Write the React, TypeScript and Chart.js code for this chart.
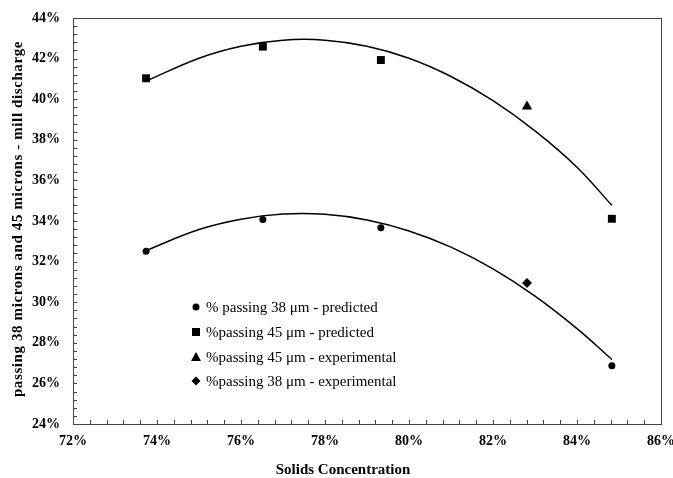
import React, { useEffect, useRef } from 'react';
import { Chart, registerables } from 'chart.js';

Chart.register(...registerables);

// ---- data ----
const solidsPredicted = [73.74, 76.52, 79.33, 84.83];
const passing38Predicted = [32.51, 34.07, 33.67, 26.87];
const passing45Predicted = [41.03, 42.59, 41.93, 34.11];
const solidsExperimental = [82.81];
const passing45Experimental = [39.64];
const passing38Experimental = [30.95];
// trend curves
const trendX = [73.74, 75, 76, 77, 78, 79, 80, 81, 82, 83, 84, 84.83];
const trend45 = [40.89, 42.02, 42.61, 42.91, 42.91, 42.61, 42.02, 41.12, 39.93, 38.44, 36.65, 34.77];
const trend38 = [32.55, 33.58, 34.09, 34.34, 34.33, 34.05, 33.51, 32.71, 31.64, 30.3, 28.7, 27.18];

const legendLabels = [
  '% passing 38 \u03bcm - predicted',
  '%passing 45 \u03bcm - predicted',
  '%passing 45 \u03bcm - experimental',
  '%passing 38 \u03bcm - experimental',
];
const legendShapes = ['circle', 'rect', 'triangle', 'rectRot'];
const yTitle = 'passing 38 microns and 45 microns - mill discharge';
const xTitle = 'Solids Concentration';

const pts = (xs: number[], ys: number[]) => xs.map((x, i) => ({ x, y: ys[i] }));

const FONT = '"Liberation Serif", "Times New Roman", serif';

function drawMarker(ctx: CanvasRenderingContext2D, shape: string, x: number, y: number) {
  ctx.beginPath();
  if (shape === 'circle') {
    ctx.arc(x, y, 3.5, 0, Math.PI * 2);
  } else if (shape === 'rect') {
    ctx.rect(x - 4, y - 4, 8, 8);
  } else if (shape === 'triangle') {
    ctx.moveTo(x, y - 5);
    ctx.lineTo(x + 5, y + 4);
    ctx.lineTo(x - 5, y + 4);
    ctx.closePath();
  } else {
    ctx.moveTo(x, y - 4.5);
    ctx.lineTo(x + 4.5, y);
    ctx.lineTo(x, y + 4.5);
    ctx.lineTo(x - 4.5, y);
    ctx.closePath();
  }
  ctx.fillStyle = '#000';
  ctx.fill();
}

const decorPlugin = {
  id: 'decor',
  afterDraw(chart: any) {
    const ctx: any = chart.ctx;
    const { left, right, top, bottom } = chart.chartArea;
    const xs = chart.scales.x;
    const ys = chart.scales.y;
    ctx.save();
    // frame
    ctx.strokeStyle = '#444';
    ctx.lineWidth = 1;
    ctx.strokeRect(Math.round(left) + 0.5, Math.round(top) + 0.5, Math.round(right - left), Math.round(bottom - top));
    // minor ticks (inward)
    ctx.beginPath();
    for (let i = 0; i <= 50; i++) {
      const v = 24 + i * 0.4;
      const py = Math.round(ys.getPixelForValue(v)) + 0.5;
      ctx.moveTo(left, py);
      ctx.lineTo(left + 4, py);
    }
    for (let i = 0; i <= 35; i++) {
      const v = 72 + i * 0.4;
      const px = Math.round(xs.getPixelForValue(v)) + 0.5;
      ctx.moveTo(px, bottom);
      ctx.lineTo(px, bottom - 4);
    }
    ctx.stroke();
    // axis titles
    ctx.fillStyle = '#000';
    ctx.font = 'bold 15px ' + FONT;
    ctx.textAlign = 'center';
    ctx.textBaseline = 'middle';
    ctx.fillText(xTitle, 343, 470);
    ctx.save();
    ctx.translate(18, 219);
    ctx.rotate(-Math.PI / 2);
    ctx.letterSpacing = '0.6px';
    ctx.fillText(yTitle, 0, 0);
    ctx.restore();
    // legend
    ctx.font = '15px ' + FONT;
    ctx.textAlign = 'left';
    const rows = [307, 332, 357, 381];
    legendLabels.forEach((lab, i) => {
      drawMarker(ctx, legendShapes[i], 196, rows[i]);
      ctx.fillStyle = '#000';
      ctx.fillText(lab, 206, rows[i] + 1);
    });
    ctx.restore();
  },
};

export default function App() {
  const ref = useRef<HTMLCanvasElement | null>(null);
  useEffect(() => {
    if (!ref.current) return;
    const tickFont = { family: FONT, size: 14, weight: 'bold' as const };
    const chart = new Chart(ref.current, {
      type: 'scatter',
      data: {
        datasets: [
          {
            label: legendLabels[0],
            data: pts(solidsPredicted, passing38Predicted),
            pointStyle: 'circle',
            pointRadius: 3.5,
            backgroundColor: '#000',
            borderColor: '#000',
            borderWidth: 0,
          },
          {
            label: legendLabels[1],
            data: pts(solidsPredicted, passing45Predicted),
            pointStyle: 'rect',
            pointRadius: 5.6,
            backgroundColor: '#000',
            borderColor: '#000',
            borderWidth: 0,
          },
          {
            label: legendLabels[2],
            data: pts(solidsExperimental, passing45Experimental),
            pointStyle: 'triangle',
            pointRadius: 6,
            backgroundColor: '#000',
            borderColor: '#000',
            borderWidth: 0,
          },
          {
            label: legendLabels[3],
            data: pts(solidsExperimental, passing38Experimental),
            pointStyle: 'rectRot',
            pointRadius: 5,
            backgroundColor: '#000',
            borderColor: '#000',
            borderWidth: 0,
          },
          {
            label: 'trend45',
            data: pts(trendX, trend45),
            showLine: true,
            pointRadius: 0,
            borderColor: '#000',
            borderWidth: 1.5,
            tension: 0.4,
            fill: false,
          },
          {
            label: 'trend38',
            data: pts(trendX, trend38),
            showLine: true,
            pointRadius: 0,
            borderColor: '#000',
            borderWidth: 1.5,
            tension: 0.4,
            fill: false,
          },
        ],
      },
      options: {
        responsive: false,
        animation: false,
        layout: { padding: { top: 18, right: 0, left: 0, bottom: 0 } },
        plugins: { legend: { display: false }, tooltip: { enabled: false } },
        scales: {
          x: {
            type: 'linear',
            min: 72,
            max: 86,
            ticks: {
              stepSize: 2,
              callback: (v: any) => v + '%',
              font: tickFont,
              color: '#000',
              padding: 9,
              maxRotation: 0,
            },
            grid: { display: true, drawOnChartArea: false, drawTicks: false },
            border: { display: true, color: '#444' },
            afterFit: (s: any) => {
              s.height = 54;
              s.paddingRight = 12;
              s.paddingLeft = 0;
            },
          },
          y: {
            type: 'linear',
            min: 24,
            max: 44,
            ticks: {
              stepSize: 2,
              callback: (v: any) => v + '%',
              font: tickFont,
              color: '#000',
              padding: 13,
            },
            grid: { display: true, drawOnChartArea: false, drawTicks: false },
            border: { display: true, color: '#444' },
            afterFit: (s: any) => {
              s.width = 73;
              s.paddingTop = 0;
              s.paddingBottom = 0;
            },
          },
        },
      },
      plugins: [decorPlugin],
    } as any);
    return () => chart.destroy();
  }, []);
  return (
    <div style={{ position: 'absolute', left: 0, top: 0, width: 673, height: 478, background: '#fff' }}>
      <canvas ref={ref} width={673} height={478} style={{ display: 'block' }} />
    </div>
  );
}
